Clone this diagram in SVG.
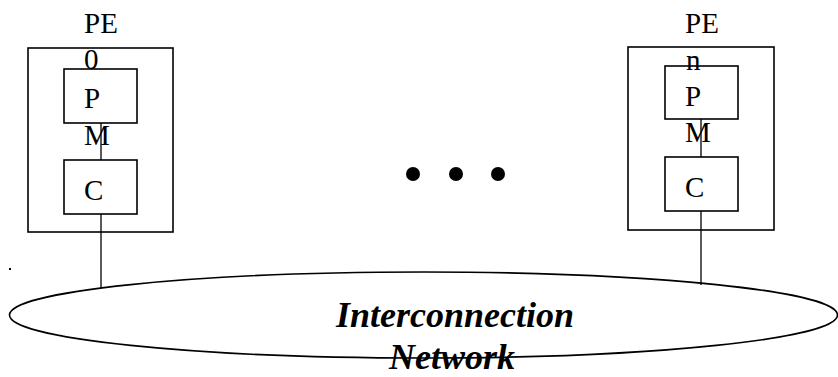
<svg xmlns="http://www.w3.org/2000/svg" width="838" height="377" viewBox="0 0 838 377">
<style>
.box{fill:none;stroke:#000;stroke-width:1.6}
.ln{fill:none;stroke:#000;stroke-width:1.3}
.t{font-family:"Liberation Serif","Times New Roman",serif;font-size:29px;fill:#000}
.net{font-family:"Liberation Serif","Times New Roman",serif;font-size:36px;font-weight:bold;font-style:italic;fill:#000;text-anchor:middle}
</style>
<rect width="838" height="377" fill="#fff"/>
<g id="connectors">
<line class="ln" x1="101" y1="123" x2="101" y2="160"/>
<line class="ln" x1="101" y1="214" x2="101" y2="288"/>
<line class="ln" x1="701" y1="119" x2="701" y2="157"/>
<line class="ln" x1="701" y1="211" x2="701" y2="285"/>
</g>
<g id="pe0">
<rect class="box" x="28" y="48" width="145" height="184"/>
<text class="t" x="84" y="33">PE</text>
<text class="t" x="84" y="69">0</text>
</g>
<g id="pm0">
<rect class="box" x="64" y="69" width="73" height="54"/>
<text class="t" x="84" y="108">P</text>
<text class="t" x="84" y="145">M</text>
</g>
<g id="c0">
<rect class="box" x="64" y="160" width="73" height="54"/>
<text class="t" x="84" y="200">C</text>
</g>
<g id="pen">
<rect class="box" x="628" y="47" width="146" height="183"/>
<text class="t" x="685" y="33">PE</text>
<text class="t" x="686" y="70">n</text>
</g>
<g id="pmn">
<rect class="box" x="665" y="66" width="73" height="53"/>
<text class="t" x="685" y="106">P</text>
<text class="t" x="685" y="142">M</text>
</g>
<g id="cn">
<rect class="box" x="665" y="157" width="73" height="54"/>
<text class="t" x="685" y="197">C</text>
</g>
<g id="dots">
<circle cx="413" cy="174" r="7"/>
<circle cx="456" cy="174" r="7"/>
<circle cx="498" cy="174" r="7"/>
</g>
<rect x="9" y="268" width="2" height="2" fill="#000"/>
<g id="network">
<ellipse class="box" cx="423.5" cy="315" rx="414" ry="43"/>
<text class="net" x="455" y="327">Interconnection</text>
<text class="net" x="452" y="369">Network</text>
</g>
</svg>
